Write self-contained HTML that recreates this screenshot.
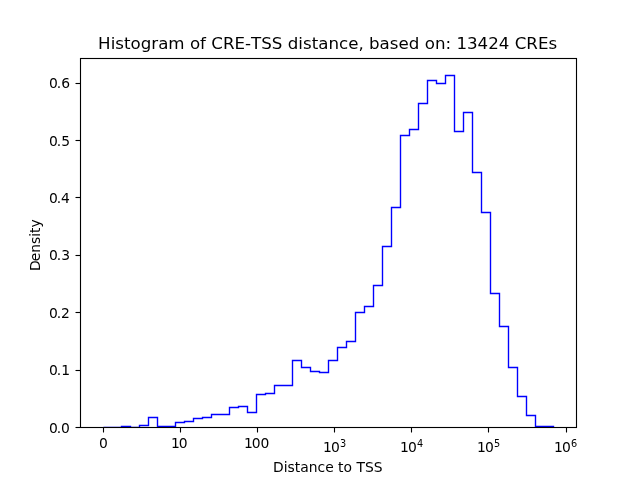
<!DOCTYPE html>
<html lang="en">
<head>
<meta charset="utf-8">
<title>Histogram of CRE-TSS distance</title>
<style>
html,body{margin:0;padding:0;background:#fff;}
body{width:640px;height:480px;overflow:hidden;}
svg{display:block;}
text{font-family:"DejaVu Sans","Liberation Sans",sans-serif;fill:#000;font-kerning:none;}
.t10{font-size:13.889px;}
.t12{font-size:16.667px;}
.t7{font-size:9.722px;}
.ax line,.ax rect{stroke:#000;stroke-width:1.111;fill:none;stroke-linecap:butt;}
.ax rect{stroke-linejoin:miter;}
.h{fill:none;stroke:#00f;stroke-width:1.389;stroke-linejoin:miter;stroke-linecap:butt;}
</style>
</head>
<body>
<svg width="640" height="480" viewBox="0 0 640 480">
<defs><clipPath id="axclip"><rect x="80" y="57.6" width="496" height="369.9"/></clipPath></defs>
<rect x="0" y="0" width="640" height="480" fill="#fff"/>
<g clip-path="url(#axclip)"><polyline class="h" points="103.5,427.5 112.5,427.5 121.5,427.5 121.5,426.5 130.5,426.5 130.5,427.5 139.5,427.5 139.5,425.5 148.5,425.5 148.5,417.5 157.5,417.5 157.5,426.5 166.5,426.5 175.5,426.5 175.5,422.5 184.5,422.5 184.5,421.5 193.5,421.5 193.5,418.5 202.5,418.5 202.5,417.5 211.5,417.5 211.5,414.5 220.5,414.5 229.5,414.5 229.5,407.5 238.5,407.5 238.5,406.5 247.5,406.5 247.5,412.5 256.5,412.5 256.5,394.5 265.5,394.5 265.5,393.5 274.5,393.5 274.5,385.5 283.5,385.5 292.5,385.5 292.5,360.5 301.5,360.5 301.5,367.5 310.5,367.5 310.5,371.5 319.5,371.5 319.5,372.5 328.5,372.5 328.5,360.5 337.5,360.5 337.5,347.5 346.5,347.5 346.5,341.5 355.5,341.5 355.5,312.5 364.5,312.5 364.5,306.5 373.5,306.5 373.5,285.5 382.5,285.5 382.5,246.5 391.5,246.5 391.5,207.5 400.5,207.5 400.5,135.5 409.5,135.5 409.5,129.5 418.5,129.5 418.5,103.5 427.5,103.5 427.5,80.5 436.5,80.5 436.5,83.5 445.5,83.5 445.5,75.5 454.5,75.5 454.5,131.5 463.5,131.5 463.5,112.5 472.5,112.5 472.5,172.5 481.5,172.5 481.5,212.5 490.5,212.5 490.5,293.5 499.5,293.5 499.5,326.5 508.5,326.5 508.5,367.5 517.5,367.5 517.5,396.5 526.5,396.5 526.5,415.5 535.5,415.5 535.5,426.5 544.5,426.5 553.5,426.5 553.5,427.5"/></g>
<g class="ax">
<line x1="103.5" y1="427.5" x2="103.5" y2="432.5"/>
<line x1="180.5" y1="427.5" x2="180.5" y2="432.5"/>
<line x1="257.5" y1="427.5" x2="257.5" y2="432.5"/>
<line x1="334.5" y1="427.5" x2="334.5" y2="432.5"/>
<line x1="411.5" y1="427.5" x2="411.5" y2="432.5"/>
<line x1="488.5" y1="427.5" x2="488.5" y2="432.5"/>
<line x1="566.5" y1="427.5" x2="566.5" y2="432.5"/>
<line x1="75.5" y1="427.5" x2="80.5" y2="427.5"/>
<line x1="75.5" y1="370.5" x2="80.5" y2="370.5"/>
<line x1="75.5" y1="312.5" x2="80.5" y2="312.5"/>
<line x1="75.5" y1="255.5" x2="80.5" y2="255.5"/>
<line x1="75.5" y1="197.5" x2="80.5" y2="197.5"/>
<line x1="75.5" y1="140.5" x2="80.5" y2="140.5"/>
<line x1="75.5" y1="83.5" x2="80.5" y2="83.5"/>
<rect x="80.5" y="58.5" width="496" height="369"/>
</g>
<text class="t12" x="327.65" y="49" text-anchor="middle" letter-spacing="0.012">Histogram of CRE-TSS distance, based on: 13424 CREs</text>
<text class="t10" x="273.04 283.71 287.57 294.81 300.25 308.75 317.54 325.17 333.7 338.12 343.56 352.04 356.45 364.93 373.73" y="472">Distance to TSS</text>
<text class="t10" transform="translate(39.5,244.9) rotate(-90)" x="-26.17 -16.3 -7.76 1.03 8.26 11.82 17.36" y="0">Density</text>
<g class="t10">
<text x="48.91 56.65 60.96" y="433">0.0</text>
<text x="48.91 56.65 61.16" y="375">0.1</text>
<text x="48.91 56.65 60.96" y="318">0.2</text>
<text x="48.91 56.65 61.16" y="260">0.3</text>
<text x="48.91 56.65 60.96" y="203">0.4</text>
<text x="48.91 56.65 61.16" y="146">0.5</text>
<text x="48.91 56.65 61.16" y="88">0.6</text>
<text x="99.08" y="448">0</text>
<text x="170.96 178.65" y="448">10</text>
<text x="243.94 251.68 260.42" y="448">100</text>
<text x="322.9 331" y="452">10<tspan class="t7" x="339.95" y="447">3</tspan></text>
<text x="399.9 408" y="452">10<tspan class="t7" x="416.95" y="447">4</tspan></text>
<text x="476.9 485" y="452">10<tspan class="t7" x="494.05" y="447">5</tspan></text>
<text x="553.9 562" y="452">10<tspan class="t7" x="571.05" y="447">6</tspan></text>
</g>
</svg>
</body>
</html>
